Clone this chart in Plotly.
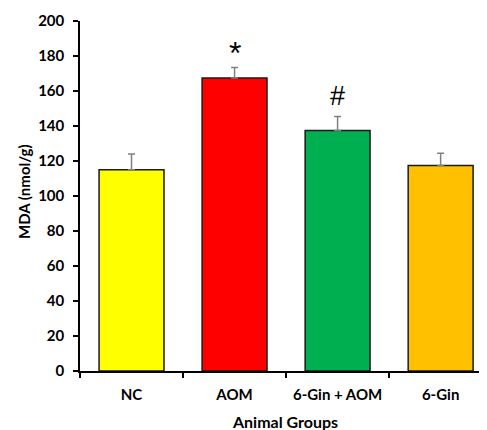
import plotly.graph_objects as go

groups = ["NC", "AOM", "6-Gin + AOM", "6-Gin"]
mda_mean = [115, 167.5, 137.5, 117.5]
mda_err = [9, 6, 8, 7]
bar_colors = ["#FFFF00", "#FF0000", "#00B050", "#FFC000"]
sig_marks = ["", "*", "#", ""]
y_ticks = [0, 20, 40, 60, 80, 100, 120, 140, 160, 180, 200]

# page has an 8px body margin; the figure is sized to fit the window
W, H = 479, 422
L, R, T, B = 72, 0, 13, 59
PW, PH = W - L - R, H - T - B


def px_x(page_x):
    return (page_x - 8 - L) / PW


def px_y(page_y):
    return (H - B - (page_y - 8)) / PH


fig = go.Figure()
fig.add_trace(go.Bar(
    x=groups,
    y=mda_mean,
    width=0.63,
    marker=dict(color=bar_colors, line=dict(color="#1a1a1a", width=1.5)),
    error_y=dict(type="data", array=mda_err, arrayminus=[0] * len(mda_err),
                 symmetric=False, color="#808080", thickness=1.5, width=3.5),
    showlegend=False,
))

annotations = []
for g, m, e, s in zip(groups, mda_mean, mda_err, sig_marks):
    if s:
        annotations.append(dict(
            x=g, y=m + e, xref="x", yref="y", text=s, showarrow=False,
            yanchor="bottom", yshift=3 if s == "#" else -6,
            font=dict(family="Liberation Sans", size=32 if s == "*" else 27, color="black"),
        ))

annotations.append(dict(
    x=px_x(24), y=px_y(192), xref="paper", yref="paper", text="MDA (nmol/g)",
    showarrow=False, textangle=-90, xanchor="center", yanchor="middle",
    font=dict(family="Lato", size=15, color="black", weight="bold"),
))
annotations.append(dict(
    x=px_x(285), y=px_y(421), xref="paper", yref="paper",
    text="Animal Groups", showarrow=False, xanchor="center", yanchor="middle",
    font=dict(family="Lato", size=16, color="black", weight="bold"),
))

fig.update_layout(
    width=W, height=H,
    margin=dict(l=L, r=R, t=T, b=B, pad=0),
    paper_bgcolor="white", plot_bgcolor="white",
    annotations=annotations,
)
fig.update_xaxes(
    range=[-0.5, 3.45], showline=True, linecolor="black", linewidth=1.5,
    ticks="outside", tickson="boundaries", ticklen=5, tickwidth=1.5, tickcolor="black",
    tickfont=dict(family="Lato", size=15, color="black", weight="bold"),
    ticklabelstandoff=9, showgrid=False, zeroline=False,
)
fig.update_yaxes(
    range=[0, 200], tickvals=y_ticks, showline=True, linecolor="black", linewidth=1.5,
    ticks="outside", ticklen=5, tickwidth=1.5, tickcolor="black",
    tickfont=dict(family="Lato", size=15, color="black", weight="bold"),
    ticklabelstandoff=6, showgrid=False, zeroline=False,
)

fig.write_html("out.html")
